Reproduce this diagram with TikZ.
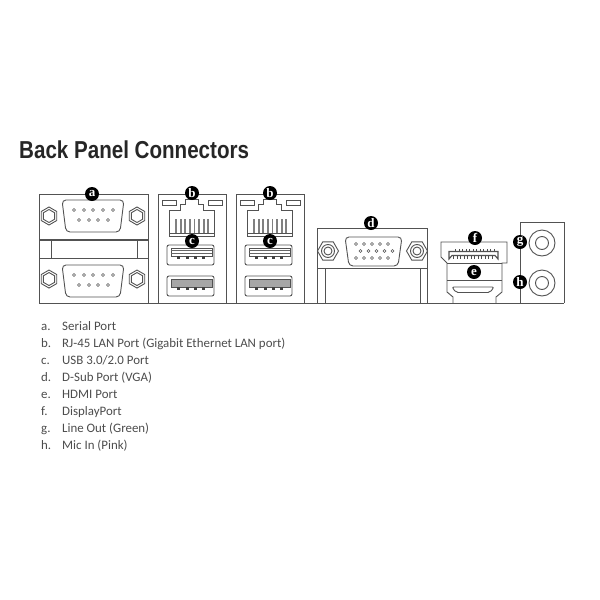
\documentclass[tikz,border=0pt]{standalone}
\usepackage{fontspec}
\setmainfont{Carlito}
\newfontfamily\titlefont[FakeStretch=0.84]{Liberation Sans}
\newfontfamily\tagfont{Liberation Serif}
\usetikzlibrary{shapes.geometric}

\begin{document}
\begin{tikzpicture}[
    x=1pt, y=-1pt,
    line/.style={draw=black!68, line width=0.9pt},
    tag/.style={circle, fill=black, text=white, inner sep=0pt, minimum size=14pt, font=\tagfont\bfseries\fontsize{13}{12}\selectfont},
    nut/.style={regular polygon, regular polygon sides=6, shape border rotate=30, line, minimum size=18pt, inner sep=0pt},
    vganut/.style={regular polygon, regular polygon sides=6, line, minimum size=21pt, inner sep=0pt},
    pin/.style={circle, line, line width=0.6pt, minimum size=3pt, inner sep=0pt},
    jack/.style={circle, line, minimum size=26pt, inner sep=0pt},
    item/.style={anchor=base west, inner sep=0pt, text=black!70, font=\fontsize{12.9}{14}\selectfont}
]
\useasboundingbox (0,0) rectangle (600,600);

% Title
\node[anchor=base west, inner sep=0pt, text=black!85, font=\titlefont\bfseries\fontsize{24.5}{26}\selectfont] (title) at (19,158) {Back Panel Connectors};

% Base line
\draw[line] (39,303) -- (564,303);

% Serial panel
\draw[line] (39,303) -- (39,194) -- (148.5,194) -- (148.5,303);
\draw[line, line width=1.4pt] (39,240) -- (148.5,240);
\draw[line] (39,258) -- (148.5,258) (51,241) -- (51,258) (137,241) -- (137,258);
\foreach \sy/\nm in {0/up, 65/low} {
  \draw[line, rounded corners=4pt] (62,200+\sy) -- (124,200+\sy) -- (120,232+\sy) -- (66,232+\sy) -- cycle;
  \node[nut] (nutl\nm) at (49,216+\sy*0.97) {};
  \node[nut, minimum size=13pt] (nutli\nm) at (49,216+\sy*0.97) {};
  \node[nut] (nutr\nm) at (137,216+\sy*0.97) {};
  \node[nut, minimum size=13pt] (nutri\nm) at (137,216+\sy*0.97) {};
  \foreach \px in {74,84,93,103,113} \node[pin] at (\px,210+\sy) {};
  \foreach \px in {79,89,98,108} \node[pin] at (\px,220+\sy) {};
}

% LAN and USB panels
\foreach \ox in {0,78} {
  \draw[line] (158+\ox,303) -- (158+\ox,194) -- (226+\ox,194) -- (226+\ox,303);
  \draw[line] (162+\ox,200) rectangle (176+\ox,205) (208+\ox,200) rectangle (222+\ox,205);
  \draw[line] (169+\ox,236) -- (169+\ox,210) -- (180+\ox,210) -- (180+\ox,204) -- (185+\ox,204) -- (185+\ox,199) -- (198+\ox,199) -- (198+\ox,204) -- (203+\ox,204) -- (203+\ox,210) -- (214+\ox,210) -- (214+\ox,236) -- cycle;
  \draw[line] (169+\ox,233) -- (214+\ox,233);
  \foreach \px in {176,180.6,185.2,189.8,194.4,199,203.6,208} \draw[black!50, line width=1.8pt] (\px+\ox,219) -- (\px+\ox,233);
  % USB 3.0
  \draw[line, rounded corners=2pt] (167+\ox,245) rectangle (214+\ox,265);
  \draw[line, line width=0.6pt] (171+\ox,248) rectangle (212+\ox,256);
  \draw[black!60, line width=0.7pt] (171+\ox,250.5) -- (212+\ox,250.5) (171+\ox,253) -- (212+\ox,253);
  % USB 2.0
  \draw[line, rounded corners=2pt] (167+\ox,276) rectangle (214+\ox,296);
  \draw[line, line width=0.6pt, fill=black!35] (171+\ox,279) rectangle (212+\ox,287);
  \foreach \px in {178,187,195,203} {
    \fill[black!75] (\px+\ox-1.5,256) rectangle (\px+\ox+1.5,259);
    \fill[black!75] (\px+\ox-1.5,287) rectangle (\px+\ox+1.5,290);
  }
}

% VGA panel
\draw[line] (317,303) -- (317,228) -- (427,228) -- (427,303);
\draw[line] (317,268) -- (427,268) (325,268) -- (325,303) (420,268) -- (420,303);
\draw[line, rounded corners=4pt] (345,237) -- (402,237) -- (398,266) -- (349,266) -- cycle;
\foreach \px in {356,364,372,380,388} {
  \node[pin] at (\px,244) {};
  \node[pin] at (\px,258) {};
  \node[pin] at (\px+4.5,251) {};
}
\foreach \nx/\nm in {328/left, 417/right} {
  \node[vganut] (vga\nm) at (\nx,251) {};
  \node[pin, line width=0.9pt, minimum size=13pt] (vgaa\nm) at (\nx,251) {};
  \node[pin, line width=0.9pt, minimum size=8pt] (vgab\nm) at (\nx,251) {};
}

% DisplayPort and HDMI
\draw[line] (453,303) -- (453,297) -- (447,292) -- (447,263) -- (441,257) -- (441,242) -- (507,242) -- (507,263) -- (502,263) -- (502,292) -- (496,297) -- (496,303);
\draw[line] (447,263) -- (502,263) (447,280) -- (502,280);
\draw[line, line width=1.1pt] (449,259) -- (449,251.5) -- (498,251.5) -- (498,259) -- (495,255.5) -- (452,255.5) -- cycle;
\foreach \px in {456,459.5,...,496} {
  \fill[black!70] (\px-1,248.5) rectangle (\px,251);
  \fill[black!70] (\px-3,255.5) rectangle (\px-2,258.5);
}
\draw[line, rounded corners=2pt] (452,287) -- (494,287) -- (490,292.5) -- (456,292.5) -- cycle;

% Audio panel
\draw[line] (520,303) -- (520,222) -- (564,222) -- (564,303);
\foreach \jy/\nm in {243/line, 283/mic} {
  \node[jack] (\nm outer) at (542,\jy) {};
  \node[jack, minimum size=13pt] (\nm inner) at (542,\jy) {};
}

% Tags
\node[tag] (taga) at (92,194) {a};
\node[tag] (tagb) at (192,193) {b};
\node[tag] (tagc) at (192,241) {c};
\node[tag] (tagbb) at (270,193) {b};
\node[tag] (tagcc) at (270,241) {c};
\node[tag] (tagd) at (371,223) {d};
\node[tag] (tagf) at (475,238) {f};
\node[tag] (tage) at (474,272) {e};
\node[tag] (tagg) at (520,242) {g};
\node[tag] (tagh) at (520,282) {h};

% Legend
\foreach \ly/\lt/\tx in {
  330/a./Serial Port,
  347/b./RJ-45 LAN Port (Gigabit Ethernet LAN port),
  364/c./USB 3.0\slash 2.0 Port,
  381/d./D-Sub Port (VGA),
  398/e./HDMI Port,
  415/f./DisplayPort,
  432/g./Line Out (Green),
  449/h./Mic In (Pink)} {
  \node[item] (mark\ly) at (41,\ly) {\lt};
  \node[item] (text\ly) at (62,\ly) {\tx};
}

\end{tikzpicture}
\end{document}
